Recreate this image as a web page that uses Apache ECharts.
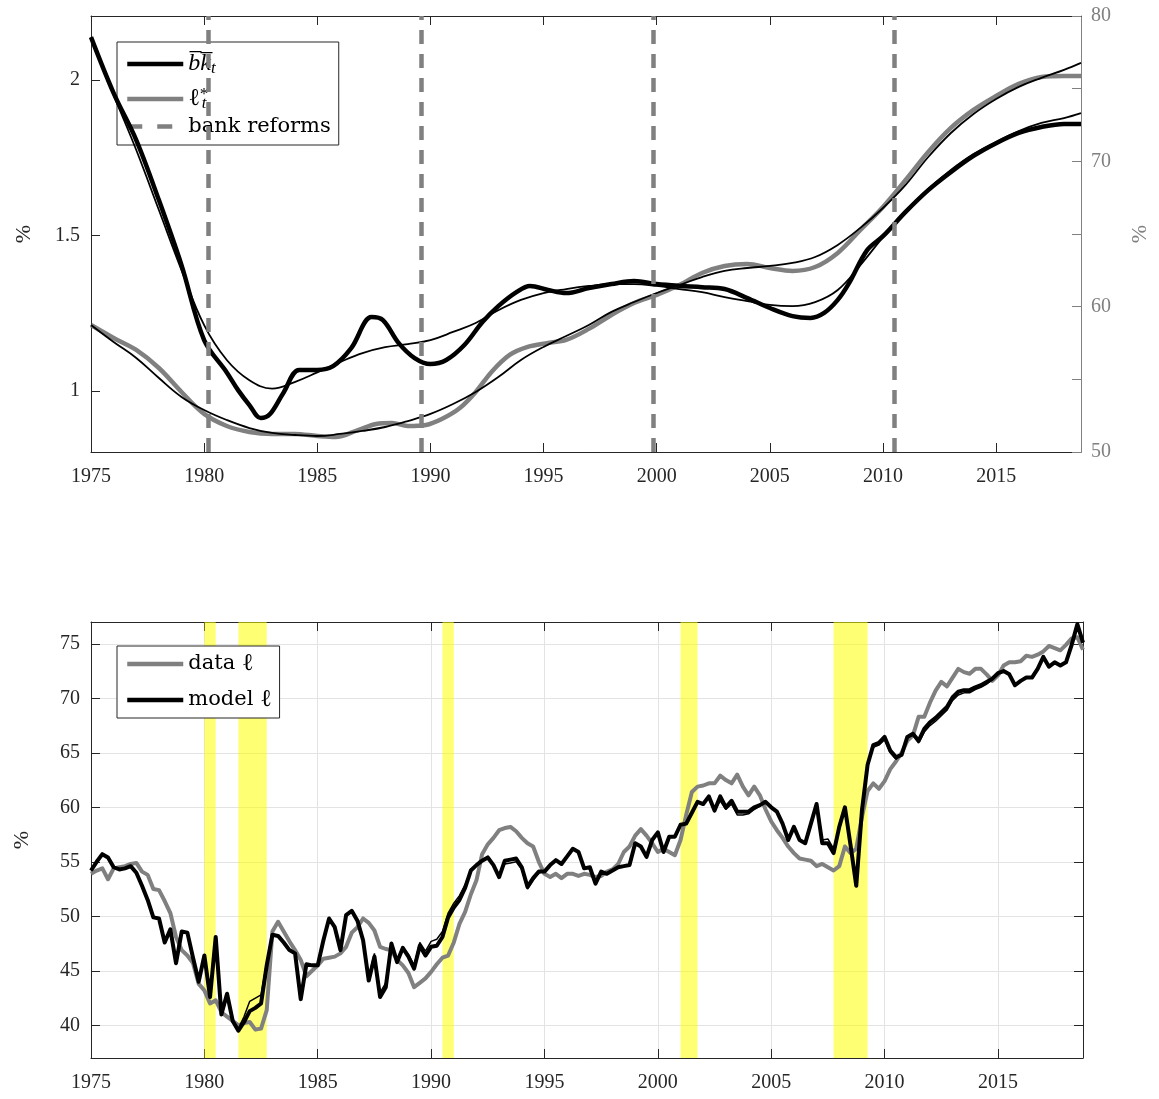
<!DOCTYPE html>
<html><head><meta charset="utf-8">
<script src="https://cdn.jsdelivr.net/npm/echarts@6/dist/echarts.min.js"></script>
<style>html,body{margin:0;padding:0;background:#fff}#c{width:1159px;height:1099px}</style>
</head><body><div id="c"></div>
<script>
// ---------- ticks / labels ----------
const xTicks = [1975,1980,1985,1990,1995,2000,2005,2010,2015];
const leftTopTicks = [1, 1.5, 2];
const rightTopLabels = [50, 60, 70, 80];
const bottomYTicks = [40,45,50,55,60,65,70,75];
const reformYears = [1980.17, 1989.58, 1999.83, 2010.5];
const recessions = [[1980.0,1980.5],[1981.5,1982.75],[1990.5,1991.0],[2001.0,2001.75],[2007.75,2009.25]];

// ---------- top panel ----------
const bkYears = [1975,1976,1977,1978,1979,1980,1981,1981.5,1982,1982.5,1982.9,1983.5,1984.2,1985,1985.7,1986.5,1987.4,1987.9,1988.6,1989.3,1990,1990.7,1991.5,1992.3,1993,1993.8,1994.4,1995.2,1996,1997,1998,1999,2000,2001,2002,2003,2004,2005,2006,2006.8,2007.4,2008,2008.5,2009.3,2010,2011,2012,2013,2014,2015,2016,2017,2018,2018.75];
const bkVals = [2.138,1.958,1.807,1.614,1.405,1.164,1.060,1.003,0.955,0.913,0.925,0.994,1.068,1.068,1.080,1.138,1.238,1.228,1.154,1.106,1.087,1.100,1.148,1.222,1.273,1.318,1.338,1.325,1.315,1.331,1.344,1.354,1.344,1.338,1.334,1.328,1.299,1.267,1.241,1.235,1.251,1.293,1.347,1.453,1.498,1.576,1.646,1.704,1.756,1.797,1.830,1.849,1.859,1.859];

const trendYears = [1975,1976,1977,1978,1979,1980,1981,1982,1983,1984,1985,1986,1987,1988,1989,1990,1991,1992,1993,1994,1995,1996,1997,1998,1999,2000,2001,2002,2003,2004,2005,2006,2007,2008,2009,2010,2011,2012,2013,2014,2015,2016,2017,2018,2018.75];
const bkTrendVals = [2.138,1.952,1.775,1.582,1.389,1.212,1.100,1.035,1.008,1.029,1.060,1.093,1.122,1.141,1.151,1.164,1.190,1.219,1.260,1.293,1.315,1.328,1.338,1.344,1.344,1.338,1.328,1.318,1.302,1.289,1.277,1.273,1.286,1.325,1.405,1.495,1.579,1.650,1.711,1.762,1.801,1.836,1.862,1.878,1.894];

const lstarYears = [1975,1976,1977,1978,1979,1980,1981,1982,1983,1984,1985,1985.8,1986.8,1987.6,1988.3,1989,1989.8,1990.5,1991.3,1992,1992.7,1993.5,1994.3,1995.2,1996,1997,1998,1999,2000,2001,2002,2003,2004,2005,2006,2007,2008,2009,2010,2011,2012,2013,2014,2015,2016,2017,2018,2018.75];
const lstarVals = [58.74,57.85,57.02,55.78,54.13,52.62,51.79,51.38,51.24,51.24,51.10,51.03,51.51,51.93,52.00,51.79,51.86,52.27,53.03,54.13,55.51,56.68,57.23,57.50,57.71,58.47,59.43,60.25,60.81,61.49,62.32,62.80,62.94,62.66,62.46,62.73,63.70,65.28,66.86,68.72,70.65,72.30,73.54,74.50,75.33,75.81,75.88,75.88];
const lstarTrendVals = [58.74,57.57,56.47,55.09,53.79,52.89,52.20,51.65,51.31,51.17,51.10,51.24,51.45,51.72,52.13,52.62,53.30,54.13,55.16,56.33,57.23,57.98,58.74,59.64,60.32,60.94,61.49,62.04,62.46,62.66,62.80,63.01,63.42,64.25,65.42,66.79,68.38,70.30,71.95,73.26,74.29,75.12,75.74,76.29,76.77];

// ---------- bottom panel (quarterly, 1975Q1 .. 2018Q4) ----------
const qStart = 1975;
const dataL = [
53.9,54.2,54.4,53.4, 54.4,54.5,54.6,54.8, 54.9,54.1,53.8,52.5, 52.4,51.4,50.3,48.1,
46.9,46.4,45.7,43.8, 43.2,42.0,42.3,41.2, 40.8,40.4,40.0,40.2, 40.3,39.6,39.7,41.4,
48.6,49.5,48.6,47.7, 46.9,46.0,44.5,45.0, 45.5,46.1,46.2,46.3, 46.6,47.2,48.5,49.0,
49.8,49.4,48.7,47.2, 47.0,46.9,46.0,45.5, 44.8,43.5,43.9,44.3, 44.9,45.6,46.2,46.4,
47.6,49.3,50.4,52.0, 53.3,55.7,56.6,57.2, 57.9,58.1,58.2,57.8, 57.2,56.7,56.4,55.0,
53.9,53.6,53.9,53.5, 53.9,53.9,53.7,53.9, 53.8,53.6,53.7,54.1, 54.3,54.8,55.9,56.4,
57.4,58.0,57.4,56.7, 55.9,56.2,55.9,55.6, 57.0,59.3,61.4,61.9, 62.0,62.2,62.2,62.9,
62.5,62.2,63.0,61.9, 61.1,61.9,61.1,59.8, 58.7,57.9,57.2,56.4, 55.8,55.3,55.2,55.1,
54.6,54.8,54.5,54.2, 54.6,56.4,55.8,56.2, 59.1,61.5,62.2,61.7, 62.4,63.5,64.2,65.0,
66.1,66.6,68.3,68.3, 69.6,70.7,71.5,71.1, 71.9,72.7,72.4,72.25, 72.7,72.7,72.2,71.6,
72.1,73.0,73.3,73.3, 73.4,73.9,73.8,74.0, 74.3,74.8,74.6,74.4, 74.9,75.5,75.6,74.45];
const modelL = [
54.2,55.0,55.7,55.4, 54.5,54.3,54.4,54.6, 54.0,52.8,51.5,49.9, 49.8,47.6,48.8,45.7,
48.6,48.5,46.2,44.0, 46.4,42.6,48.1,41.0, 42.9,40.4,39.5,40.3, 41.3,41.6,42.0,45.5,
48.3,48.2,47.6,46.9, 46.6,42.4,45.6,45.5, 45.5,47.8,49.8,49.0, 46.9,50.1,50.5,49.6,
47.8,44.1,46.3,42.6, 43.5,47.5,45.8,47.1, 46.3,45.2,47.3,46.4, 47.2,47.3,48.1,49.9,
50.8,51.5,52.6,54.2, 54.7,55.1,55.4,54.7, 53.6,55.1,55.2,55.3, 54.5,52.7,53.5,54.1,
54.1,54.7,55.15,54.8, 55.5,56.2,55.9,54.4, 54.5,53.0,54.1,53.9, 54.2,54.5,54.6,54.7,
56.7,56.4,55.45,57.0, 57.7,55.9,57.3,57.3, 58.4,58.5,59.5,60.5, 60.3,61.0,59.7,61.0,
60.0,60.6,59.6,59.6, 59.6,60.0,60.2,60.5, 60.0,59.6,58.5,57.0, 58.2,57.0,56.7,58.5,
60.3,56.7,56.7,55.8, 58.2,60.0,56.5,52.8, 59.7,63.9,65.7,65.9, 66.45,65.2,64.6,64.8,
66.45,66.75,66.1,67.2, 67.8,68.2,68.7,69.2, 70.1,70.6,70.75,70.75, 71.0,71.2,71.5,71.8,
72.3,72.5,72.2,71.2, 71.6,71.9,71.9,72.7, 73.8,72.9,73.3,73.0, 73.3,74.9,76.8,75.1];
const altL = [
54.2,55.0,55.7,55.4, 54.5,54.3,54.4,54.6, 54.0,52.8,51.5,49.9, 49.8,47.6,48.8,45.7,
48.6,48.5,46.2,44.0, 46.4,42.6,48.1,41.0, 42.9,40.4,39.7,40.8, 42.2,42.5,42.8,45.8,
48.3,48.2,47.6,46.9, 46.6,42.4,45.6,45.5, 45.5,47.8,49.8,49.0, 46.9,50.1,50.5,49.6,
47.8,44.5,46.6,43.0, 43.9,47.3,46.0,47.2, 46.5,45.5,47.6,46.8, 47.7,47.9,48.6,50.3,
51.2,51.9,52.9,54.3, 54.7,55.1,55.4,54.7, 53.8,54.8,54.9,55.0, 54.3,52.5,53.3,54.0,
54.1,54.7,55.15,54.8, 55.5,56.2,55.9,54.4, 54.5,53.0,54.1,53.9, 54.2,54.5,54.6,54.7,
56.7,56.4,55.45,57.0, 57.7,55.9,57.3,57.3, 58.4,58.5,59.5,60.5, 60.3,61.0,59.7,60.6,
59.8,60.3,59.3,59.3, 59.4,59.8,60.1,60.5, 60.0,59.6,58.5,57.0, 58.2,57.0,56.7,58.5,
60.3,57.0,57.1,56.2, 58.2,60.0,56.5,52.8, 59.7,63.9,65.5,65.7, 66.2,65.0,64.4,64.8,
66.4,66.6,65.9,66.9, 67.5,67.9,68.4,68.9, 69.8,70.3,70.5,70.5, 70.8,71.0,71.3,71.7,
72.3,72.5,72.2,71.2, 71.6,71.9,71.9,72.7, 73.8,72.9,73.3,73.0, 73.3,74.9,76.8,75.1];

// ---------- build ----------
const pairs = (xs, ys) => xs.map((x, i) => [x, ys[i]]);
const qPairs = ys => ys.map((v, i) => [qStart + i / 4, v]);

const AX = '#262626', GR = '#808080';
const FONT = "'Liberation Serif', 'DejaVu Serif', serif";
const LFONT = "'DejaVu Serif', serif";
const lab = (c) => ({fontFamily: FONT, fontSize: 20, color: c});

function xAx(grid, pos, showLabel, split) {
  return {
    type: 'value', gridIndex: grid, position: pos, min: 1975, max: 2018.75, interval: 5,
    axisLine: {show: true, onZero: false, lineStyle: {color: AX, width: 1}},
    axisTick: {show: true, inside: true, length: 9, customValues: xTicks, lineStyle: {color: AX}},
    axisLabel: {show: showLabel, customValues: xTicks, margin: 15, ...lab(AX), formatter: v => String(v)},
    splitLine: {show: split, lineStyle: {color: '#e3e3e3', width: 1}}
  };
}

const legendRich = {
  rm: {fontFamily: LFONT, fontSize: 21, lineHeight: 26, color: '#000'},
  it: {fontFamily: FONT, fontSize: 24, lineHeight: 26, color: '#000'},
  ov: {fontFamily: FONT, fontStyle: 'italic', fontSize: 24, lineHeight: 26, color: '#000'},
  sub: {fontFamily: FONT, fontStyle: 'italic', fontSize: 17, lineHeight: 16, padding: [14, 0, 0, 0], verticalAlign: 'bottom', color: '#000'},
  sup: {fontFamily: FONT, fontSize: 17, lineHeight: 16, verticalAlign: 'top', width: 2, color: '#000'}
};
const legendNames = {
  bk: '{ov|b\u0305k\u0305}{sub|t}',
  lstar: '{it|\u2113}{sup|*}{sub|t}',
  'bank reforms': '{rm|bank reforms}',
  data: '{rm|data }{it|\u2113}',
  model: '{rm|model }{it|\u2113}'
};
const legendBase = {
  orient: 'vertical', itemWidth: 56, itemHeight: 14, itemGap: 4,
  borderColor: AX, borderWidth: 1, backgroundColor: '#fff', borderRadius: 0,
  itemStyle: {opacity: 0},
  textStyle: {fontFamily: LFONT, fontSize: 21, color: '#000', rich: legendRich},
  formatter: n => legendNames[n], selectedMode: false
};

const option = {
  animation: false,
  backgroundColor: '#fff',
  grid: [
    {left: 91, top: 16, width: 992, height: 436},
    {left: 91, top: 622, width: 992, height: 436}
  ],
  legend: [
    {...legendBase, left: 117, top: 42, padding: [4, 8, 8, 8], lineStyle: {width: 4.5}, data: ['bk', 'lstar', 'bank reforms']},
    {...legendBase, left: 117, top: 646, padding: [6, 8, 6, 8], itemGap: 12, lineStyle: {width: 4.5}, data: ['data', 'model']}
  ],
  xAxis: [xAx(0, 'bottom', true, false), xAx(0, 'top', false, false), xAx(1, 'bottom', true, true), xAx(1, 'top', false, false)],
  yAxis: [
    {type: 'value', gridIndex: 0, position: 'left', min: 0.804, max: 2.206,
     name: '%', nameLocation: 'middle', nameGap: 56, nameRotate: 90, nameTextStyle: {fontFamily: FONT, fontSize: 22, color: AX},
     axisLine: {show: true, lineStyle: {color: AX}},
     axisTick: {show: true, inside: true, length: 9, customValues: leftTopTicks, lineStyle: {color: AX}},
     axisLabel: {customValues: leftTopTicks, margin: 11, ...lab(AX), formatter: v => String(v)},
     splitLine: {show: false}},
    {type: 'value', gridIndex: 0, position: 'right', min: 50, max: 80, interval: 5,
     name: '%', nameLocation: 'middle', nameGap: 48, nameRotate: 90, nameTextStyle: {fontFamily: FONT, fontSize: 22, color: GR},
     axisLine: {show: true, lineStyle: {color: GR}},
     axisTick: {show: true, inside: true, length: 9, lineStyle: {color: GR}},
     axisLabel: {margin: 10, ...lab(GR), formatter: v => rightTopLabels.includes(v) ? String(v) : ''},
     splitLine: {show: false}},
    {type: 'value', gridIndex: 1, position: 'left', min: 37, max: 77,
     name: '%', nameLocation: 'middle', nameGap: 58, nameRotate: 90, nameTextStyle: {fontFamily: FONT, fontSize: 22, color: AX},
     axisLine: {show: true, lineStyle: {color: AX}},
     axisTick: {show: true, inside: true, length: 9, customValues: bottomYTicks, lineStyle: {color: AX}},
     axisLabel: {customValues: bottomYTicks, margin: 11, ...lab(AX)},
     splitLine: {show: true, lineStyle: {color: '#e3e3e3', width: 1}}},
    {type: 'value', gridIndex: 1, position: 'right', min: 37, max: 77,
     axisLine: {show: true, lineStyle: {color: AX}},
     axisTick: {show: true, inside: true, length: 9, customValues: bottomYTicks, lineStyle: {color: AX}},
     axisLabel: {show: false}, splitLine: {show: false}}
  ],
  series: [
    {name: 'lstar', type: 'line', xAxisIndex: 0, yAxisIndex: 1, data: pairs(lstarYears, lstarVals),
     smooth: 0.35, symbol: 'none', showSymbol: false, z: 3, lineStyle: {color: GR, width: 4.5}, itemStyle: {color: GR}},
    {name: 'bk', type: 'line', xAxisIndex: 0, yAxisIndex: 0, data: pairs(bkYears, bkVals),
     smooth: 0.35, symbol: 'none', showSymbol: false, z: 4, lineStyle: {color: '#000', width: 4.5}, itemStyle: {color: '#000'}},
    {name: 'bkTrend', type: 'line', xAxisIndex: 0, yAxisIndex: 0, data: pairs(trendYears, bkTrendVals),
     smooth: 0.4, symbol: 'none', showSymbol: false, z: 5, lineStyle: {color: '#000', width: 1.8}},
    {name: 'lstarTrend', type: 'line', xAxisIndex: 0, yAxisIndex: 1, data: pairs(trendYears, lstarTrendVals),
     smooth: 0.4, symbol: 'none', showSymbol: false, z: 5, lineStyle: {color: '#000', width: 1.8}},
    {name: 'bank reforms', type: 'line', xAxisIndex: 0, yAxisIndex: 0, data: [], symbol: 'none', z: 8,
     lineStyle: {color: GR, width: 4.5, type: [15, 15]}, itemStyle: {color: GR},
     markLine: {silent: true, symbol: 'none', label: {show: false}, z: 8,
       lineStyle: {color: GR, width: 4.5, type: [14, 10]},
       data: reformYears.map(y => ({xAxis: y}))}},

    {name: 'bands', type: 'line', xAxisIndex: 2, yAxisIndex: 2, data: [], z: 1,
     markArea: {silent: true, itemStyle: {color: 'rgba(255,255,0,0.55)'},
       data: recessions.slice(1).map(r => [{xAxis: r[0]}, {xAxis: r[1]}])}},
    {name: 'data', type: 'line', xAxisIndex: 2, yAxisIndex: 2, data: qPairs(dataL),
     symbol: 'none', showSymbol: false, z: 3, lineStyle: {color: GR, width: 4, join: 'round'}, itemStyle: {color: GR}},
    {name: 'model', type: 'line', xAxisIndex: 2, yAxisIndex: 2, data: qPairs(modelL),
     symbol: 'none', showSymbol: false, z: 4, lineStyle: {color: '#000', width: 4, join: 'round'}, itemStyle: {color: '#000'}},
    {name: 'modelAlt', type: 'line', xAxisIndex: 2, yAxisIndex: 2, data: qPairs(altL),
     symbol: 'none', showSymbol: false, z: 5, lineStyle: {color: '#000', width: 1.5}},
    {name: 'bandTop', type: 'line', xAxisIndex: 2, yAxisIndex: 2, data: [], z: 9,
     markArea: {silent: true, itemStyle: {color: 'rgba(255,255,0,0.55)'},
       data: recessions.slice(0, 1).map(r => [{xAxis: r[0]}, {xAxis: r[1]}])}}
  ]
};
const chart = echarts.init(document.getElementById('c'), null, {renderer: 'canvas'});
chart.setOption(option);
</script>
</body></html>
